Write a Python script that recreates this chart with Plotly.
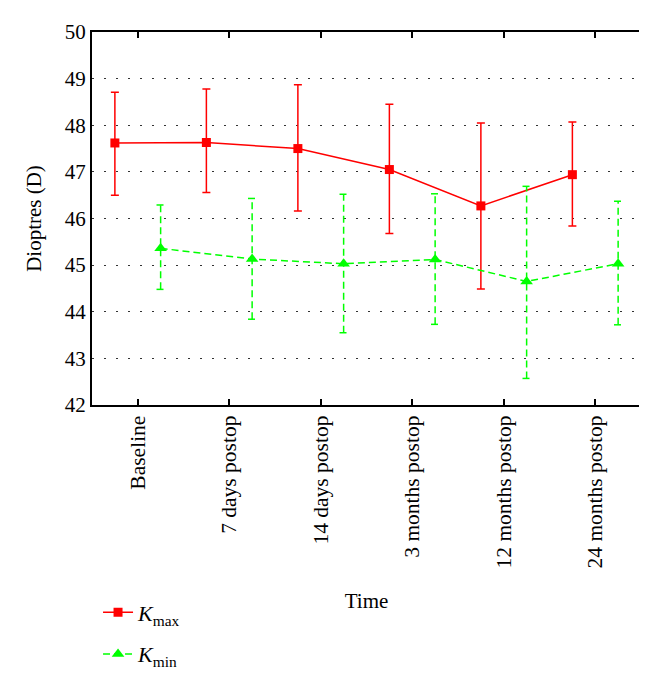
import plotly.graph_objects as go

categories = ["Baseline", "7 days postop", "14 days postop", "3 months postop",
              "12 months postop", "24 months postop"]
kmax_mean = [47.62, 47.63, 47.50, 47.05, 46.27, 46.94]
kmax_upper = [48.71, 48.78, 48.87, 48.45, 48.05, 48.07]
kmax_lower = [46.50, 46.56, 46.16, 45.68, 44.49, 45.84]
kmin_mean = [45.36, 45.13, 45.03, 45.12, 44.65, 45.03]
kmin_upper = [46.29, 46.43, 46.52, 46.53, 46.69, 46.37]
kmin_lower = [44.48, 43.84, 43.55, 43.73, 42.57, 43.72]
y_ticks = [42, 43, 44, 45, 46, 47, 48, 49, 50]

RED = "#ff0000"
GREEN = "#00ff00"
FONT = "Liberation Serif"
OFF = 0.25
CAP = 0.045

idx = list(range(len(categories)))
x_max = [i - OFF for i in idx]
x_min = [i + OFF for i in idx]

fig = go.Figure()

# Kmax with native error bars
fig.add_trace(go.Scatter(
    x=x_max, y=kmax_mean, mode="lines+markers",
    name="<i>K</i><sub>max</sub>", legendgroup="a",
    line=dict(color=RED, width=1.5),
    marker=dict(symbol="square", size=9, color=RED),
    error_y=dict(type="data", symmetric=False,
                 array=[u - m for u, m in zip(kmax_upper, kmax_mean)],
                 arrayminus=[m - l for m, l in zip(kmax_mean, kmax_lower)],
                 color=RED, thickness=1.5, width=4),
))

# Kmin dashed error bars built as line segments
ex, ey = [], []
for xi, lo, hi in zip(x_min, kmin_lower, kmin_upper):
    ex += [xi, xi, None, xi - CAP, xi + CAP, None, xi - CAP, xi + CAP, None]
    ey += [lo, hi, None, hi, hi, None, lo, lo, None]
fig.add_trace(go.Scatter(
    x=ex, y=ey, mode="lines", showlegend=False, hoverinfo="skip",
    line=dict(color=GREEN, width=1.5, dash="7px,4px"),
))
fig.add_trace(go.Scatter(
    x=x_min, y=kmin_mean, mode="lines+markers",
    name="<i>K</i><sub>min</sub>", legendgroup="b",
    line=dict(color=GREEN, width=1.5, dash="7px,4px"),
    marker=dict(symbol="triangle-up", size=11, color=GREEN),
))

fig.update_layout(
    width=647, height=680,
    margin=dict(l=84, r=14, t=24, b=277),
    paper_bgcolor="white", plot_bgcolor="white",
    font=dict(family=FONT, size=21, color="black"),
    showlegend=True,
    legend=dict(x=0.011, xanchor="left", y=-0.50, yanchor="top",
                tracegroupgap=10, font=dict(size=22, family=FONT),
                bgcolor="rgba(0,0,0,0)"),
    xaxis=dict(
        range=[-0.5, 5.5], tickmode="array", tickvals=idx, ticktext=categories,
        tickangle=-90, ticks="inside", ticklen=6, tickcolor="black", tickwidth=1.5,
        showline=True, linecolor="black", linewidth=2, mirror="ticks",
        showgrid=False, zeroline=False,
        title=dict(text="Time", standoff=26, font=dict(size=21, family=FONT)),
        tickfont=dict(size=21.5, family=FONT),
    ),
    yaxis=dict(
        range=[42, 50], tickmode="array", tickvals=y_ticks,
        ticks="", showline=True, linecolor="black", linewidth=2, mirror=True,
        showgrid=True, gridcolor="#333333", gridwidth=1, griddash="2px,10px",
        zeroline=False,
        title=dict(text="Dioptres (D)", standoff=17, font=dict(size=21, family=FONT)),
        tickfont=dict(size=21, family=FONT),
    ),
)

fig.write_html("out.html")
